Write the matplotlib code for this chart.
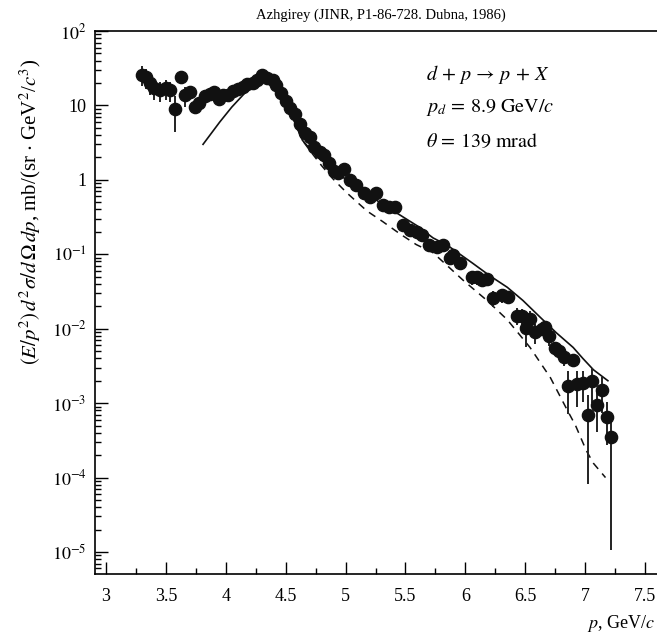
"""
Azhgirey d + p -> p + X, p_d = 8.9 GeV/c, theta = 139 mrad
invariant cross section vs proton momentum, data points + two model curves
"""

import numpy as np
import matplotlib
matplotlib.use("Agg")
import matplotlib.pyplot as plt
from matplotlib.ticker import FixedLocator, LogLocator, NullFormatter

# -------- DATA -----------------------------------
p_data = [3.30, 3.33, 3.37, 3.40, 3.45, 3.50, 3.53, 3.576, 3.626, 3.66,
          3.70, 3.74, 3.78, 3.83, 3.87, 3.90, 3.94, 3.98, 4.02, 4.06,
          4.10, 4.14, 4.18, 4.23, 4.26, 4.30, 4.34, 4.39, 4.42, 4.46,
          4.50, 4.54, 4.58, 4.62, 4.66, 4.70, 4.74, 4.79, 4.82, 4.86,
          4.90, 4.94, 4.99, 5.04, 5.09, 5.15, 5.20, 5.25, 5.31, 5.36,
          5.41, 5.48, 5.54, 5.60, 5.64, 5.70, 5.76, 5.81, 5.87, 5.90,
          5.955, 6.055, 6.10, 6.14, 6.18, 6.23, 6.31, 6.36, 6.43, 6.47,
          6.505, 6.54, 6.58, 6.64, 6.665, 6.70, 6.75, 6.78, 6.82, 6.86,
          6.90, 6.93, 6.98, 7.02, 7.06, 7.10, 7.14, 7.18, 7.22]
xsec = [26, 24, 20, 17, 16, 17, 16, 9.0, 24, 13.8,
        15, 9.6, 10.8, 13.5, 14.2, 15.0, 12.3, 13.7, 13.7, 15.5,
        16.6, 17.7, 19.4, 20.0, 21.9, 25.7, 23.4, 21.9, 18.6, 14.8,
        11.5, 9.2, 7.7, 5.6, 4.3, 3.8, 2.8, 2.4, 2.15, 1.7,
        1.3, 1.23, 1.4, 0.99, 0.85, 0.66, 0.59, 0.66, 0.46, 0.43,
        0.43, 0.25, 0.21, 0.20, 0.18, 0.133, 0.126, 0.133, 0.089, 0.098,
        0.076, 0.049, 0.049, 0.045, 0.047, 0.026, 0.028, 0.027, 0.015, 0.0148,
        0.0102, 0.0135, 0.0089, 0.010, 0.0105, 0.0079, 0.0055, 0.0050, 0.0042, 0.0017,
        0.0038, 0.0018, 0.00186, 0.00069, 0.0020, 0.00093, 0.00148, 0.00065, 0.00035]
# relative errors
rel_err = [0.3, 0.3, 0.3, 0.3, 0.3, 0.3, 0.3, 0.51, 0.1, 0.3,
           0.1, 0.05, 0.05, 0.05, 0.05, 0.05, 0.05, 0.05, 0.05, 0.05,
           0.05, 0.05, 0.05, 0.05, 0.05, 0.05, 0.05, 0.05, 0.05, 0.05,
           0.05, 0.05, 0.05, 0.05, 0.05, 0.05, 0.05, 0.05, 0.05, 0.05,
           0.05, 0.05, 0.05, 0.05, 0.05, 0.05, 0.05, 0.05, 0.05, 0.05,
           0.05, 0.15, 0.1, 0.1, 0.1, 0.1, 0.1, 0.1, 0.15, 0.1,
           0.1, 0.2, 0.2, 0.15, 0.15, 0.25, 0.2, 0.2, 0.25, 0.25,
           0.44, 0.3, 0.3, 0.2, 0.2, 0.25, 0.2, 0.2, 0.25, 0.58,
           0.2, 0.5, 0.45, 0.88, 0.5, 0.56, 0.5, 0.58, 0.97]

# solid curve
p_solid = [3.81, 3.95, 4.05, 4.19, 4.29, 4.37, 4.45, 4.54, 4.64, 4.76,
           4.89, 5.02, 5.18, 5.29, 5.45, 5.60, 5.73, 5.85, 6.06, 6.20,
           6.35, 6.48, 6.62, 6.76, 6.90, 6.98, 7.07, 7.19]
y_solid = [3.0, 6.0, 9.5, 16.6, 22.0, 20.0, 14.8, 8.1, 3.4, 2.05,
           1.45, 0.95, 0.66, 0.49, 0.34, 0.24, 0.166, 0.132, 0.076, 0.052,
           0.036, 0.024, 0.0145, 0.0088, 0.0056, 0.0040, 0.0028, 0.0020]

# dashed curve
p_dash = [4.45, 4.54, 4.64, 4.70, 4.80, 4.89, 5.01, 5.18, 5.31, 5.45,
          5.59, 5.73, 5.85, 5.98, 6.18, 6.35, 6.54, 6.71, 6.85, 6.92,
          7.01, 7.07, 7.17]
y_dash = [14.8, 8.1, 3.4, 2.5, 1.55, 1.05, 0.67, 0.38, 0.275, 0.19,
          0.135, 0.105, 0.070, 0.045, 0.024, 0.0132, 0.0056, 0.0022, 0.00081, 0.0005,
          0.00023, 0.000155, 0.0001]

p_ticks = [3, 3.5, 4, 4.5, 5, 5.5, 6, 6.5, 7, 7.5]
y_ticks = [1e-5, 1e-4, 1e-3, 1e-2, 1e-1, 1, 10, 100]
y_ticklabels = [r"$10^{-5}$", r"$10^{-4}$", r"$10^{-3}$", r"$10^{-2}$",
                r"$10^{-1}$", "1", "10", r"$10^{2}$"]

# -------- STYLE ----------
plt.rcParams["font.family"] = ["Liberation Serif", "DejaVu Serif"]
plt.rcParams["mathtext.fontset"] = "stix"

W, H = 657, 636
fig = plt.figure(figsize=(W / 100, H / 100), dpi=100)
ax = fig.add_axes([95 / W, 1 - 574 / H, 1 - 95 / W, (574 - 31) / H])

# -------- PLOT ----------
y = np.array(xsec)
err = np.array(rel_err) * y
ax.errorbar(p_data, y, yerr=err, fmt="o", color="#111111", ecolor="#222222",
            markersize=8.8, elinewidth=1.4, capsize=0, zorder=3)
ax.plot(p_solid, y_solid, "-", color="#111111", lw=1.2, zorder=2)
ax.plot(p_dash, y_dash, color="#111111", lw=1.1, ls=(0, (5, 4)), zorder=2)

ax.set_yscale("log")
ax.set_xlim(2.908, 7.6)
ax.set_ylim(5.06e-6, 100)

ax.xaxis.set_major_locator(FixedLocator(p_ticks))
ax.set_xticklabels([f"{t:g}" for t in p_ticks])
ax.xaxis.set_minor_locator(FixedLocator(np.arange(3.25, 7.6, 0.5)))
ax.yaxis.set_major_locator(FixedLocator(y_ticks))
ax.set_yticklabels(y_ticklabels)
ax.yaxis.set_minor_locator(LogLocator(base=10, subs=np.arange(2, 10)))
ax.yaxis.set_minor_formatter(NullFormatter())

ax.tick_params(axis="both", which="major", direction="in", length=9, width=1,
               labelsize=13, top=False, right=False)
ax.tick_params(axis="both", which="minor", direction="in", length=4.5, width=1,
               top=False, right=False)
ax.tick_params(axis="x", pad=10)
ax.tick_params(axis="y", pad=6)
ax.spines["right"].set_visible(False)
for s in ["left", "bottom", "top"]:
    ax.spines[s].set_linewidth(1.2)

# -------- TEXT ----------
fig.text(381 / W, 1 - 15 / H, "Azhgirey (JINR, P1-86-728. Dubna, 1986)",
         ha="center", va="center", fontsize=10.5)
fig.text(426 / W, 1 - 75 / H, r"$d\,+\,p\,\rightarrow\,p\,+\,X$",
         ha="left", va="center", fontsize=14.5)
fig.text(426 / W, 1 - 108 / H, r"$p_d\,=\,8.9\ \mathrm{GeV}/c$",
         ha="left", va="center", fontsize=14.5)
fig.text(426 / W, 1 - 142 / H, r"$\theta\,=\,139\ \mathrm{mrad}$",
         ha="left", va="center", fontsize=14.5)
fig.text(30 / W, 1 - 212 / H,
         r"$(E/p^2)\,d^2\sigma/d\,\Omega\, dp$, mb/(sr $\cdot$ GeV$^2$/$c^3$)",
         rotation=90, ha="center", va="center", fontsize=15)
fig.text(655 / W, 1 - 623 / H, r"$p$, GeV/$c$", ha="right", va="center",
         fontsize=13)

fig.savefig("out.png", dpi=100)
